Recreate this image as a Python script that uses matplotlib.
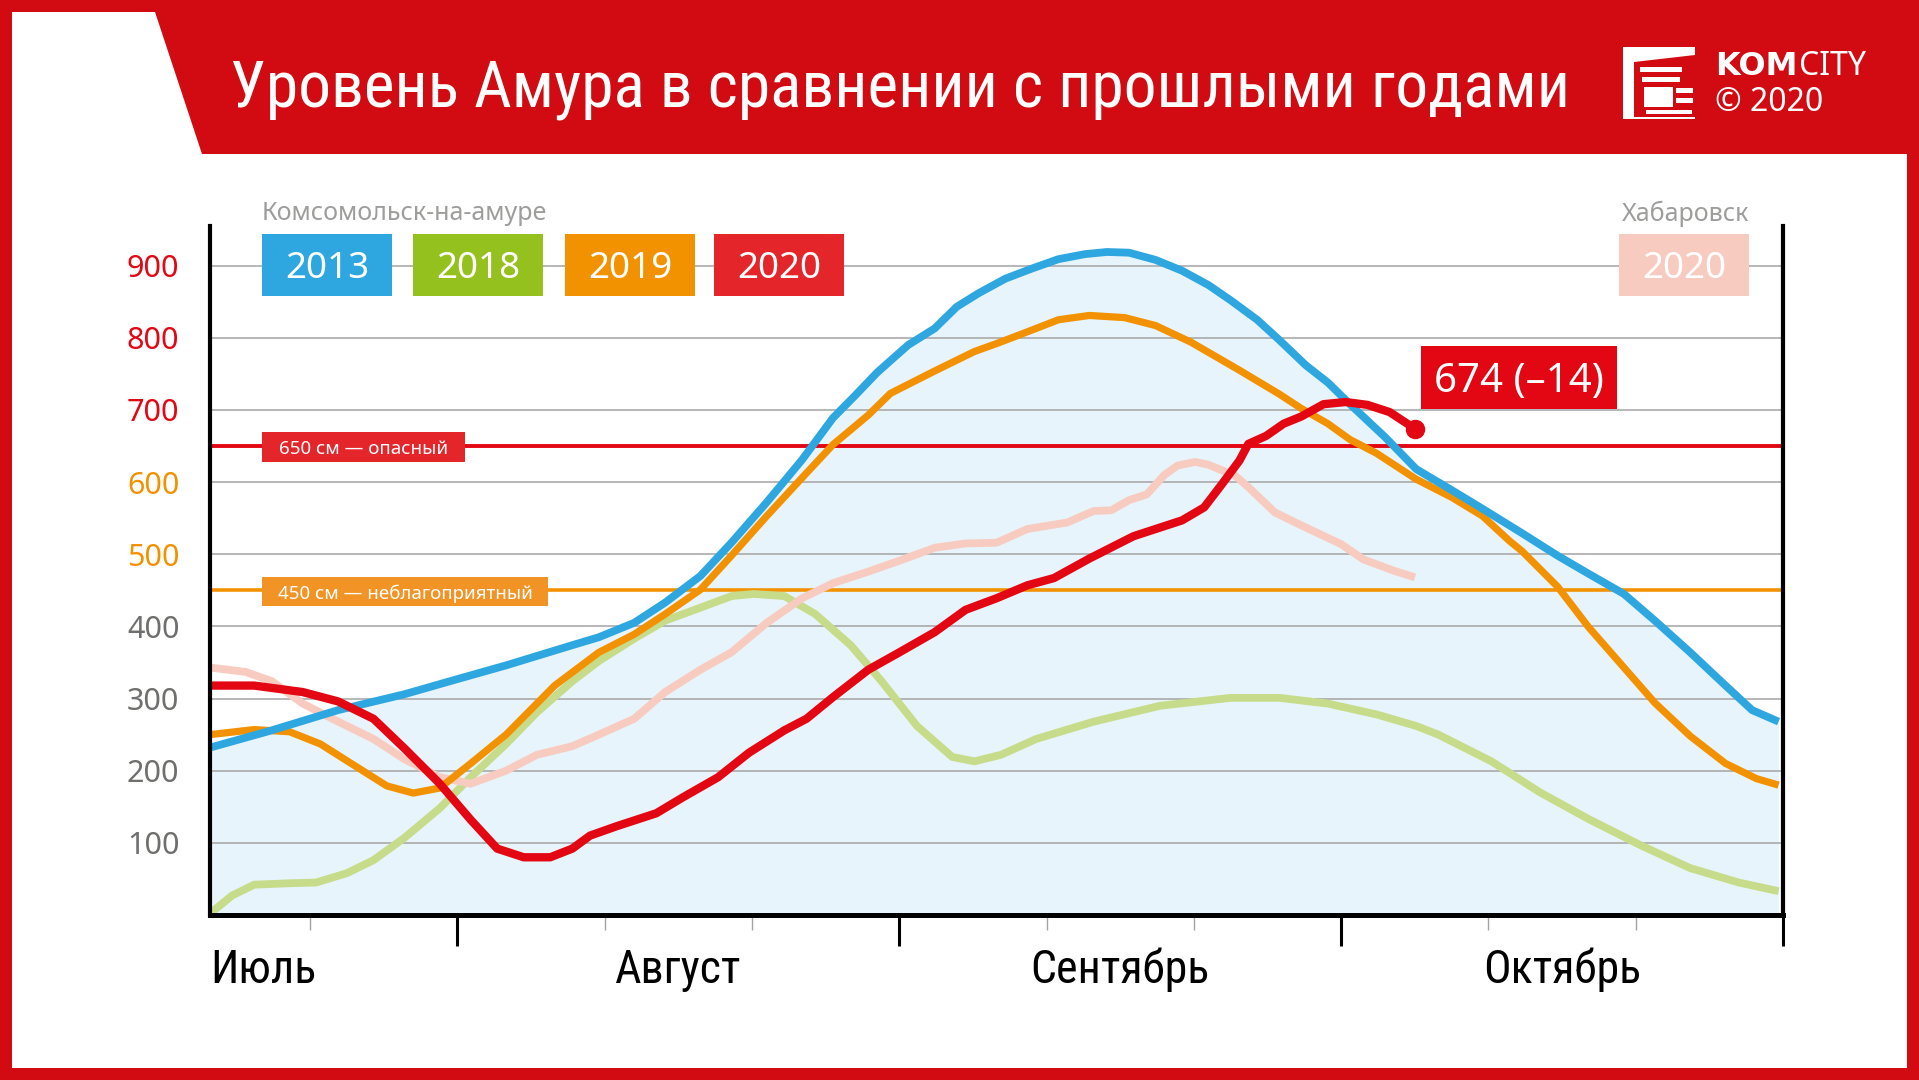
import matplotlib
matplotlib.use("Agg")
import matplotlib.pyplot as plt
from matplotlib import font_manager as fm
from matplotlib.patches import Rectangle, Polygon
from matplotlib.transforms import blended_transform_factory

# ось x в месяцах: 1.0 = 1 августа, 2.0 = 1 сентября, 3.0 = 1 октября, 4.0 = 1 ноября
x_2013 = [0.44, 0.58, 0.73, 0.88, 1.00, 1.11, 1.26, 1.32, 1.40, 1.47, 1.55, 1.62, 1.70, 1.78,
          1.85, 1.90, 1.95, 2.02, 2.08, 2.13, 2.18, 2.24, 2.30, 2.36, 2.42, 2.47, 2.52, 2.58,
          2.64, 2.70, 2.75, 2.81, 2.86, 2.92, 2.97, 3.02, 3.10, 3.17, 3.25, 3.32, 3.41, 3.49,
          3.56, 3.64, 3.71, 3.79, 3.87, 3.93, 3.99]
lvl_2013 = [232, 256, 284, 306, 327, 346, 374, 385, 405, 433, 470, 516, 572, 631,
            689, 720, 752, 790, 813, 843, 862, 882, 896, 909, 916, 919, 918, 908,
            893, 873, 852, 825, 797, 762, 738, 708, 662, 618, 589, 563, 529, 498,
            473, 445, 408, 364, 318, 284, 268]

x_2018 = [0.44, 0.49, 0.54, 0.62, 0.68, 0.75, 0.81, 0.88, 0.96, 1.03, 1.11, 1.18, 1.26, 1.32,
          1.40, 1.47, 1.55, 1.62, 1.67, 1.74, 1.81, 1.89, 1.96, 2.04, 2.12, 2.17, 2.23, 2.31,
          2.44, 2.59, 2.75, 2.86, 2.97, 3.08, 3.17, 3.22, 3.34, 3.45, 3.56, 3.68, 3.79, 3.90, 3.99]
lvl_2018 = [2, 27, 42, 44, 45, 58, 76, 107, 148, 191, 237, 281, 324, 352,
            383, 408, 426, 442, 445, 442, 417, 374, 324, 262, 219, 213, 222, 244,
            268, 290, 301, 301, 293, 278, 262, 250, 213, 170, 133, 96, 65, 45, 33]

x_2019 = [0.44, 0.54, 0.62, 0.69, 0.77, 0.84, 0.90, 0.96, 1.03, 1.11, 1.22, 1.32, 1.40, 1.47,
          1.55, 1.62, 1.70, 1.78, 1.85, 1.93, 1.98, 2.08, 2.17, 2.22, 2.28, 2.36, 2.43, 2.51,
          2.58, 2.66, 2.77, 2.86, 2.91, 2.97, 3.02, 3.08, 3.17, 3.25, 3.32, 3.38, 3.41, 3.49,
          3.56, 3.64, 3.71, 3.79, 3.87, 3.94, 3.99]
lvl_2019 = [250, 257, 254, 237, 206, 179, 169, 176, 210, 250, 318, 364, 389, 417,
            451, 498, 553, 606, 652, 693, 723, 754, 781, 792, 806, 825, 831, 828,
            817, 794, 755, 722, 702, 681, 659, 640, 604, 579, 553, 519, 504, 455,
            399, 343, 294, 248, 210, 189, 180]

x_2020 = [0.44, 0.54, 0.65, 0.73, 0.81, 0.88, 0.96, 1.03, 1.09, 1.15, 1.21, 1.26, 1.30, 1.36,
          1.45, 1.51, 1.59, 1.66, 1.74, 1.79, 1.85, 1.93, 2.00, 2.08, 2.15, 2.22, 2.29, 2.35,
          2.43, 2.53, 2.64, 2.69, 2.73, 2.77, 2.79, 2.83, 2.87, 2.91, 2.96, 3.01, 3.06, 3.11, 3.167]
lvl_2020 = [318, 318, 309, 296, 272, 231, 182, 132, 92, 80, 80, 92, 110, 123,
            141, 163, 191, 225, 256, 272, 302, 340, 364, 392, 423, 439, 457, 467,
            494, 525, 547, 565, 597, 630, 653, 664, 681, 691, 708, 711, 707, 697, 674]

# Хабаровск 2020
x_khab = [0.44, 0.52, 0.58, 0.65, 0.73, 0.81, 0.88, 0.96, 1.03, 1.11, 1.18, 1.26, 1.32, 1.40,
          1.47, 1.55, 1.62, 1.70, 1.78, 1.85, 1.93, 2.00, 2.08, 2.15, 2.22, 2.29, 2.38, 2.44,
          2.48, 2.52, 2.56, 2.60, 2.63, 2.67, 2.70, 2.76, 2.79, 2.85, 2.91, 3.00, 3.05, 3.12, 3.167]
lvl_khab = [343, 337, 324, 293, 268, 244, 216, 191, 182, 200, 222, 234, 250, 272,
            309, 340, 364, 405, 439, 460, 476, 491, 509, 515, 516, 535, 544, 560,
            561, 575, 583, 610, 623, 628, 624, 609, 593, 558, 540, 514, 493, 477, 468]

last_label = "674 (–14)"
danger_level, danger_text = 650, "650 см — опасный"
bad_level, bad_text = 450, "450 см — неблагоприятный"

yticks = [100, 200, 300, 400, 500, 600, 700, 800, 900]
ytick_colors = ["#6f6f6e"] * 4 + ["#f39200"] * 2 + ["#e30613"] * 3
months = ["Июль", "Август", "Сентябрь", "Октябрь"]
month_centers = [0.5, 1.5, 2.5, 3.5]

C_BLUE = "#2ea7e0"
C_FILL = "#e8f4fb"
C_GREEN_LINE = "#c6dc8a"
C_GREEN = "#95c11f"
C_ORANGE = "#f39200"
C_RED = "#e30613"
C_RED_BOX = "#e4262b"
C_PINK = "#f8cbc0"
C_HEAD = "#d20a11"
C_GRAY = "#9d9d9c"

SANS = ["Noto Sans", "DejaVu Sans"]


def find_narrow():
    # ищем узкое начертание среди установленных шрифтов
    prefs = ["Liberation Sans Narrow", "Roboto Condensed", "Open Sans Condensed",
             "Noto Sans", "DejaVu Sans", "Roboto", "Open Sans"]
    cands = []
    for f in fm.fontManager.ttflist:
        st = str(f.stretch).lower()
        nm = f.name
        narrow = ("narrow" in nm.lower() or "condensed" in nm.lower()
                  or st in ("condensed", "semi-condensed", "extra-condensed"))
        if not narrow or f.style != "normal":
            continue
        w = f.weight if isinstance(f.weight, int) else 400
        if w < 350 or w > 500:
            continue
        rank = len(prefs)
        for i, p in enumerate(prefs):
            if nm.startswith(p):
                rank = i
                break
        cands.append((rank, nm, f.fname))
    if cands:
        cands.sort()
        return fm.FontProperties(fname=cands[0][2])
    return fm.FontProperties(family=["Roboto", "DejaVu Sans"])


NARROW = find_narrow()

W, H = 1919, 1080
fig = plt.figure(figsize=(W / 100, H / 100), dpi=100, facecolor=C_HEAD)
renderer = fig.canvas.get_renderer()


def fx(x):
    return x / W


def fy(y):
    return 1 - y / H


def fig_box(x0, y0, x1, y1, color, z=1):
    fig.patches.append(Rectangle((fx(x0), fy(y1)), (x1 - x0) / W, (y1 - y0) / H,
                                 transform=fig.transFigure, facecolor=color,
                                 edgecolor="none", zorder=z))


def fig_poly(pts, color, z=1):
    fig.patches.append(Polygon([(fx(a), fy(b)) for a, b in pts], closed=True,
                               transform=fig.transFigure, facecolor=color,
                               edgecolor="none", zorder=z))


def fit_width(t, target):
    w = t.get_window_extent(renderer).width
    if w > target:
        t.set_fontsize(t.get_fontsize() * target / w)


# белое поле с вырезом слева сверху
fig_poly([(12, 12), (155, 12), (202, 154), (1907, 154), (1907, 1068), (12, 1068)], "white", z=-1)

title = fig.text(fx(900), fy(107), "Уровень Амура в сравнении с прошлыми годами", color="white",
                 fontproperties=NARROW, ha="center", va="baseline")
title.set_fontsize(58)
fit_width(title, 1340)

# логотип
fig_box(1623, 47, 1695, 119, "white")
fig_box(1634, 62, 1695, 117, C_HEAD)
fig_poly([(1634, 62), (1695, 55), (1695, 64), (1634, 64)], C_HEAD)
fig_box(1640, 67, 1682, 72, "white")
fig_box(1642, 77, 1680, 82, "white")
fig_box(1644, 87, 1673, 107, "white")
fig_box(1676, 88, 1693, 93, "white")
fig_box(1676, 98, 1693, 103, "white")
fig_box(1646, 110, 1692, 114, "white")
kom = fig.text(fx(1715), fy(75), "KOM", color="white", fontsize=23, family="DejaVu Sans",
               fontweight="bold", va="baseline")
kx1 = kom.get_window_extent(renderer).x1
fig.text(kx1 / W + 0.0008, fy(75), "CITY", color="white", fontsize=23, family=SANS,
         va="baseline")
fig.text(fx(1715), fy(111), "© 2020", color="white", fontsize=23, family=SANS, va="baseline")

# график
ax = fig.add_axes([fx(210), fy(915), (1783 - 210) / W, (915 - 226) / H])
ax.set_facecolor("none")
ax.set_xlim(0.44, 4.0)
ax.set_ylim(0, 955)

ax.fill_between(x_2013, 0, lvl_2013, color=C_FILL, lw=0, zorder=0.2)
ax.set_axisbelow(True)
ax.grid(axis="y", color="#a3a3a3", lw=1.1)
ax.axhline(danger_level, color=C_RED, lw=2.8, zorder=2)
ax.axhline(bad_level, color=C_ORANGE, lw=2.6, zorder=2)

line_kw = dict(solid_joinstyle="round", solid_capstyle="butt")
ax.plot(x_2018, lvl_2018, color=C_GREEN_LINE, lw=5.6, zorder=3, **line_kw)
ax.plot(x_khab, lvl_khab, color=C_PINK, lw=5.6, zorder=3.1, **line_kw)
ax.plot(x_2019, lvl_2019, color=C_ORANGE, lw=5.2, zorder=3.2, **line_kw)
ax.plot(x_2013, lvl_2013, color=C_BLUE, lw=5.6, zorder=3.3, **line_kw)
ax.plot(x_2020, lvl_2020, color=C_RED, lw=6, zorder=3.4, **line_kw)
ax.plot(x_2020[-1], lvl_2020[-1], "o", color=C_RED, ms=13, zorder=3.5)

ax.spines["top"].set_visible(False)
ax.spines["left"].set_linewidth(3)
ax.spines["right"].set_linewidth(3)
ax.spines["bottom"].set_linewidth(3.6)
for s in ax.spines.values():
    s.set_color("black")
    s.set_zorder(4)

ax.set_yticks(yticks)
ax.set_yticklabels([str(v) for v in yticks], family=SANS, fontsize=22)
for lab, c in zip(ax.get_yticklabels(), ytick_colors):
    lab.set_color(c)
ax.tick_params(axis="y", length=0, pad=22)

ax.set_xticks([1, 2, 3, 4])
ax.set_xticks([2 / 3, 4 / 3, 5 / 3, 7 / 3, 8 / 3, 10 / 3, 11 / 3], minor=True)
ax.tick_params(axis="x", which="major", length=22, width=2.2, color="black", labelbottom=False)
ax.tick_params(axis="x", which="minor", length=11, width=1, color="#a3a3a3", labelbottom=False)

tr = blended_transform_factory(ax.transData, fig.transFigure)
month_texts = []
for i, (name, pos) in enumerate(zip(months, month_centers)):
    x = 0.44 if i == 0 else pos
    t = ax.text(x, fy(983), name, transform=tr, ha="left" if i == 0 else "center",
                va="baseline", fontproperties=NARROW, color="black")
    t.set_fontsize(33)
    month_texts.append(t)
# ширину подписей подгоняем по "Сентябрь" (в оригинале около 184 px)
w_sep = month_texts[2].get_window_extent(renderer).width
if w_sep > 184:
    for t in month_texts:
        t.set_fontsize(33 * 184 / w_sep)

# подписи порогов
fig_box(262, 432, 465, 462, C_RED_BOX, z=2)
fig.text(fx(363.5), fy(447), danger_text, color="white", fontsize=13.5, family=SANS,
         ha="center", va="center_baseline", zorder=3)
fig_box(262, 577, 548, 606, "#f29325", z=2)
fig.text(fx(405), fy(591.5), bad_text, color="white", fontsize=13.5, family=SANS,
         ha="center", va="center_baseline", zorder=3)

# легенда
fig.text(fx(262), fy(211), "Комсомольск-на-амуре", color=C_GRAY, fontsize=18, family=SANS,
         ha="left", va="center_baseline")
fig.text(fx(1749), fy(211), "Хабаровск", color=C_GRAY, fontsize=18, family=SANS,
         ha="right", va="center_baseline")
legend = [("2013", C_BLUE, 262, 392), ("2018", C_GREEN, 413, 543),
          ("2019", C_ORANGE, 565, 695), ("2020", C_RED_BOX, 714, 844),
          ("2020", C_PINK, 1619, 1749)]
for lab, col, x0, x1 in legend:
    fig_box(x0, 234, x1, 296, col, z=2)
    fig.text(fx((x0 + x1) / 2), fy(265), lab, color="white", fontsize=26.5, family=SANS,
             ha="center", va="center_baseline", zorder=3)

# выноска последнего значения
fig_box(1421, 346, 1617, 409, C_RED, z=2)
fig.text(fx(1519), fy(377.5), last_label, color="white", fontsize=29, family=SANS,
         ha="center", va="center_baseline", zorder=3)

fig.savefig("out.png", dpi=100, facecolor=fig.get_facecolor())
